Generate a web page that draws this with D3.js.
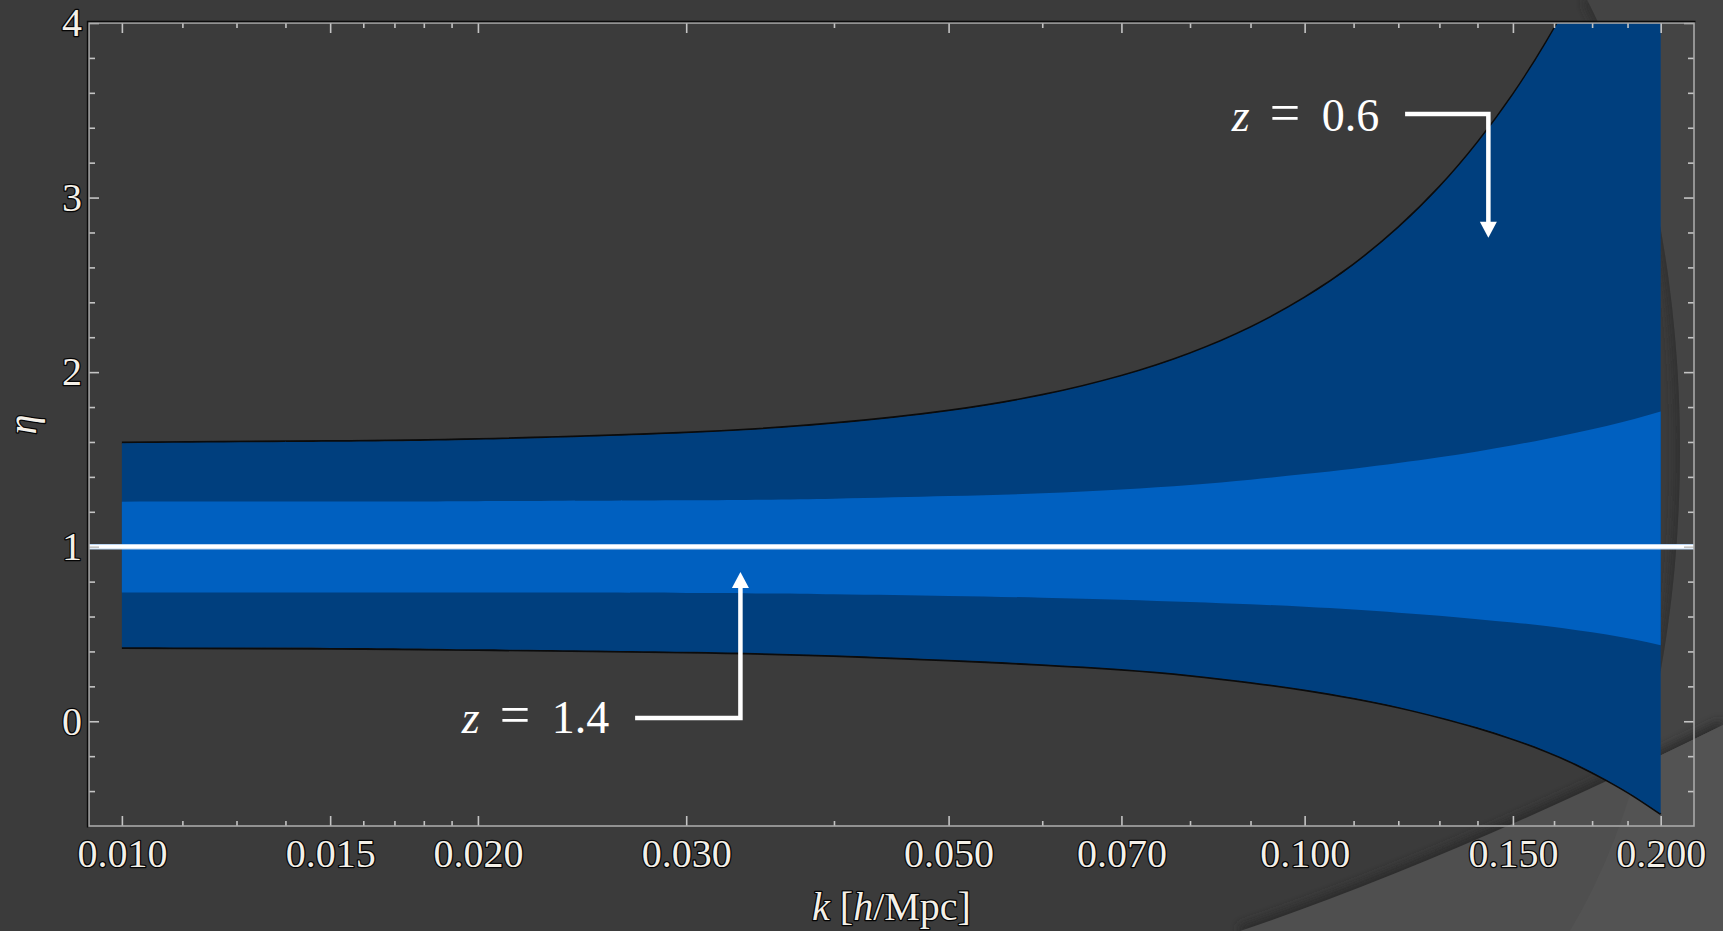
<!DOCTYPE html>
<html>
<head>
<meta charset="utf-8">
<script src="https://cdn.jsdelivr.net/npm/d3@7/dist/d3.min.js"></script>
<style>
  html, body { margin: 0; padding: 0; background: #3b3b3b; }
  svg { display: block; }
</style>
</head>
<body>
<svg id="chart" width="1723" height="931"></svg>
<script>
// Wavenumber grid, h/Mpc
const kGrid = [0.010, 0.015, 0.020, 0.030, 0.040, 0.050, 0.060, 0.070, 0.080, 0.090, 0.100,
               0.110, 0.120, 0.130, 0.140, 0.150, 0.160, 0.170, 0.180, 0.190, 0.200];

// z = 0.6 forecast band (outer, dark)
const z06Upper = [1.593, 1.601, 1.613, 1.650, 1.704, 1.776, 1.866, 1.976, 2.105, 2.254, 2.424,
                  2.614, 2.826, 3.058, 3.313, 3.588, 3.886, 4.206, 4.549, 4.914, 5.302];
const z06Lower = [0.424, 0.420, 0.412, 0.398, 0.378, 0.352, 0.327, 0.299, 0.265, 0.225, 0.182,
                  0.134, 0.082, 0.025, -0.035, -0.100, -0.170, -0.248, -0.335, -0.428, -0.529];

// z = 1.4 forecast band (inner, light)
const z14Upper = [1.258, 1.259, 1.261, 1.266, 1.275, 1.290, 1.306, 1.328, 1.354, 1.384, 1.416,
                  1.447, 1.479, 1.512, 1.546, 1.581, 1.617, 1.654, 1.692, 1.732, 1.775];
const z14Lower = [0.737, 0.737, 0.737, 0.735, 0.728, 0.718, 0.708, 0.696, 0.683, 0.670, 0.656,
                  0.640, 0.622, 0.604, 0.585, 0.566, 0.545, 0.522, 0.497, 0.468, 0.436];

// Fiducial value
const etaFiducial = 1;

// Axis ticks
const kTicksMajor = [0.010, 0.015, 0.020, 0.030, 0.050, 0.070, 0.100, 0.150, 0.200];
const kTickLabels = ["0.010", "0.015", "0.020", "0.030", "0.050", "0.070", "0.100", "0.150", "0.200"];
const kTicksMinor = [0.01125, 0.0125, 0.01375, 0.016, 0.017, 0.018, 0.019, 0.040, 0.060, 0.080,
                     0.090, 0.110, 0.120, 0.130, 0.140, 0.1625, 0.175, 0.1875];
const etaTicksMajor = [0, 1, 2, 3, 4];
const etaTicksMinor = [-0.4, -0.2, 0.2, 0.4, 0.6, 0.8, 1.2, 1.4, 1.6, 1.8, 2.2, 2.4, 2.6, 2.8,
                       3.2, 3.4, 3.6, 3.8];

// Redshift callouts: label, elbow start (k, eta), corner k, arrow tip eta, text anchor
const callouts = [
  { z: "0.6", kStart: 0.1216, kCorner: 0.1430, etaLine: 3.478, etaTip: 2.77, eta: 3.38, kText: 0.08677 },
  { z: "1.4", kStart: 0.02716, kCorner: 0.03334, etaLine: 0.019, etaTip: 0.855, eta: -0.068, kText: 0.01938 }
];

const W = 1723, H = 931;
const plot = { left: 89, right: 1694, top: 23, bottom: 826 };

const svg = d3.select("#chart");

// ---- backdrop shapes ----
const defs = svg.append("defs");
defs.append("filter").attr("id", "soft").attr("x", "-20%").attr("y", "-20%").attr("width", "140%").attr("height", "140%")
  .append("feGaussianBlur").attr("stdDeviation", 5);
const ell = { cx: 1400, cy: 450, rx: 280, ry: 605 };
const ellX = yy => ell.cx + ell.rx * Math.sqrt(1 - Math.pow((yy - ell.cy) / ell.ry, 2));
const arcPath = `M${ellX(0)},0 A${ell.rx},${ell.ry} 0 0 1 ${ellX(H)},${H}`;
const rightPath = `${arcPath} L${W},${H} L${W},0 Z`;
const lowerPath = "M1240,931 Q1450,860 1723,725 L1723,931 Z";
defs.append("clipPath").attr("id", "ellClip")
  .append("ellipse").attr("cx", ell.cx).attr("cy", ell.cy).attr("rx", ell.rx).attr("ry", ell.ry);
defs.append("clipPath").attr("id", "rightClip").append("path").attr("d", rightPath);
defs.append("clipPath").attr("id", "plotClip").append("rect")
  .attr("x", plot.left).attr("y", plot.top)
  .attr("width", plot.right - plot.left).attr("height", plot.bottom - plot.top);

const bg = svg.append("g");
bg.append("rect").attr("width", W).attr("height", H).attr("fill", "#3b3b3b");
bg.append("path").attr("d", rightPath).attr("fill", "#444444");
bg.append("path").attr("d", arcPath)
  .attr("fill", "none").attr("stroke", "#2d2d2d").attr("stroke-width", 8)
  .attr("filter", "url(#soft)").attr("clip-path", "url(#ellClip)");
bg.append("path").attr("d", "M1240,931 Q1450,860 1723,725")
  .attr("fill", "none").attr("stroke", "#2c2c2c").attr("stroke-width", 10).attr("filter", "url(#soft)");
bg.append("path").attr("d", lowerPath).attr("fill", "#4f4f4f");
bg.append("g").attr("clip-path", "url(#rightClip)")
  .append("path").attr("d", lowerPath).attr("fill", "#535353");

// ---- scales ----
const x = d3.scaleLog().domain([0.00938, 0.2134]).range([plot.left, plot.right]);
const y = d3.scaleLinear().domain([-0.6, 4]).range([plot.bottom, plot.top]);

const rows = (lo, hi) => kGrid.map((k, i) => ({ k, lo: lo[i], hi: hi[i] }));
const curve = d3.curveNatural;
const area = d3.area().x(d => x(d.k)).y0(d => y(d.lo)).y1(d => y(d.hi)).curve(curve);
const edgeHi = d3.line().x(d => x(d.k)).y(d => y(d.hi)).curve(curve);
const edgeLo = d3.line().x(d => x(d.k)).y(d => y(d.lo)).curve(curve);

const bands = svg.append("g").attr("clip-path", "url(#plotClip)");
const outer = rows(z06Lower, z06Upper);
bands.append("path").attr("d", edgeHi(outer)).attr("fill", "none")
  .attr("stroke", "#0b0b0b").attr("stroke-width", 2.2).attr("transform", "translate(0,-0.6)");
bands.append("path").attr("d", edgeLo(outer)).attr("fill", "none")
  .attr("stroke", "#0b0b0b").attr("stroke-width", 2.2).attr("transform", "translate(0,0.6)");
bands.append("path").attr("d", area(outer)).attr("fill", "#003f7e");
bands.append("path").attr("d", area(rows(z14Lower, z14Upper))).attr("fill", "#0060c0");

// fiducial line
svg.append("line")
  .attr("x1", plot.left).attr("x2", plot.right)
  .attr("y1", y(etaFiducial)).attr("y2", y(etaFiducial))
  .attr("stroke", "#bcd6f2").attr("stroke-width", 5.5);
svg.append("line")
  .attr("x1", plot.left).attr("x2", plot.right)
  .attr("y1", y(etaFiducial)).attr("y2", y(etaFiducial))
  .attr("stroke", "#ffffff").attr("stroke-width", 3.6);

// ---- frame & axes ----
const tickColor = "#c4c4c4";
const labelFont = "'Liberation Serif', 'Times New Roman', serif";

function styleAxis(g) {
  g.select(".domain").remove();
  g.selectAll(".tick line").attr("stroke", tickColor).attr("stroke-width", 1.6);
  g.selectAll(".tick text")
    .attr("font-family", labelFont).attr("font-size", 40)
    .attr("fill", "#f4f0e8").attr("stroke", "#050505").attr("stroke-width", 2.6)
    .attr("paint-order", "stroke").attr("stroke-linejoin", "round");
}

const kFmt = k => kTickLabels[kTicksMajor.indexOf(k)];

svg.append("g").attr("transform", `translate(0,${plot.bottom})`)
  .call(d3.axisBottom(x).tickValues(kTicksMajor).tickFormat(kFmt).tickSize(-10).tickPadding(13)).call(styleAxis);
svg.append("g").attr("transform", `translate(0,${plot.bottom})`)
  .call(d3.axisBottom(x).tickValues(kTicksMinor).tickFormat("").tickSize(-5)).call(styleAxis);
svg.append("g").attr("transform", `translate(0,${plot.top})`)
  .call(d3.axisTop(x).tickValues(kTicksMajor).tickFormat("").tickSize(-10)).call(styleAxis);
svg.append("g").attr("transform", `translate(0,${plot.top})`)
  .call(d3.axisTop(x).tickValues(kTicksMinor).tickFormat("").tickSize(-5)).call(styleAxis);

svg.append("g").attr("transform", `translate(${plot.left},0)`)
  .call(d3.axisLeft(y).tickValues(etaTicksMajor).tickFormat(d3.format("d")).tickSize(-10).tickPadding(7)).call(styleAxis);
svg.append("g").attr("transform", `translate(${plot.left},0)`)
  .call(d3.axisLeft(y).tickValues(etaTicksMinor).tickFormat("").tickSize(-6)).call(styleAxis);
svg.append("g").attr("transform", `translate(${plot.right},0)`)
  .call(d3.axisRight(y).tickValues(etaTicksMajor).tickFormat("").tickSize(-10)).call(styleAxis);
svg.append("g").attr("transform", `translate(${plot.right},0)`)
  .call(d3.axisRight(y).tickValues(etaTicksMinor).tickFormat("").tickSize(-6)).call(styleAxis);

// frame
svg.append("rect")
  .attr("x", plot.left).attr("y", plot.top)
  .attr("width", plot.right - plot.left).attr("height", plot.bottom - plot.top)
  .attr("fill", "none").attr("stroke", "#a9a9a9").attr("stroke-width", 1.6);
svg.append("path")
  .attr("d", `M${plot.left - 1.5},${plot.bottom + 1.5}V${plot.top - 1.5}H${plot.right + 1.5}`)
  .attr("fill", "none").attr("stroke", "#0a0a0a").attr("stroke-width", 1.4);

// axis titles
const titleStyle = t => t.attr("font-family", labelFont).attr("font-size", 40)
  .attr("fill", "#f4f0e8").attr("stroke", "#050505").attr("stroke-width", 2.6)
  .attr("paint-order", "stroke").attr("stroke-linejoin", "round");

const xt = svg.append("text").attr("x", (plot.left + plot.right) / 2).attr("y", 920)
  .attr("text-anchor", "middle").call(titleStyle);
xt.append("tspan").attr("font-style", "italic").text("k");
xt.append("tspan").text(" [");
xt.append("tspan").attr("font-style", "italic").text("h");
xt.append("tspan").text("/Mpc]");

svg.append("text")
  .attr("transform", `translate(36,${(plot.top + plot.bottom) / 2}) rotate(-90)`)
  .attr("text-anchor", "middle").attr("font-style", "italic")
  .call(titleStyle).text("η");

// ---- redshift callouts ----
const calloutFont = "'Liberation Serif', 'DejaVu Serif', serif";
const ann = svg.append("g");
callouts.forEach(c => {
  const xs = x(c.kStart), xc = x(c.kCorner), yl = y(c.etaLine), yt = y(c.etaTip);
  const dir = yt > yl ? 1 : -1;            // arrow pointing down (+1) or up (-1)
  const head = 16, half = 8.5;
  ann.append("path")
    .attr("d", `M${xs},${yl}H${xc}V${yt - dir * (head - 2)}`)
    .attr("fill", "none").attr("stroke", "#ffffff").attr("stroke-width", 4.5);
  ann.append("path")
    .attr("d", `M${xc},${yt}L${xc - half},${yt - dir * head}L${xc + half},${yt - dir * head}Z`)
    .attr("fill", "#ffffff");

  const tx = x(c.kText), ty = y(c.eta);
  const t = ann.append("text").attr("y", ty)
    .attr("font-family", calloutFont).attr("font-size", 46).attr("fill", "#ffffff");
  t.append("tspan").attr("x", tx).attr("font-style", "italic").text("z");
  t.append("tspan").attr("x", tx + 38).attr("font-size", 54).text("=");
  t.append("tspan").attr("x", tx + 90).text(c.z);
});
</script>
</body>
</html>
